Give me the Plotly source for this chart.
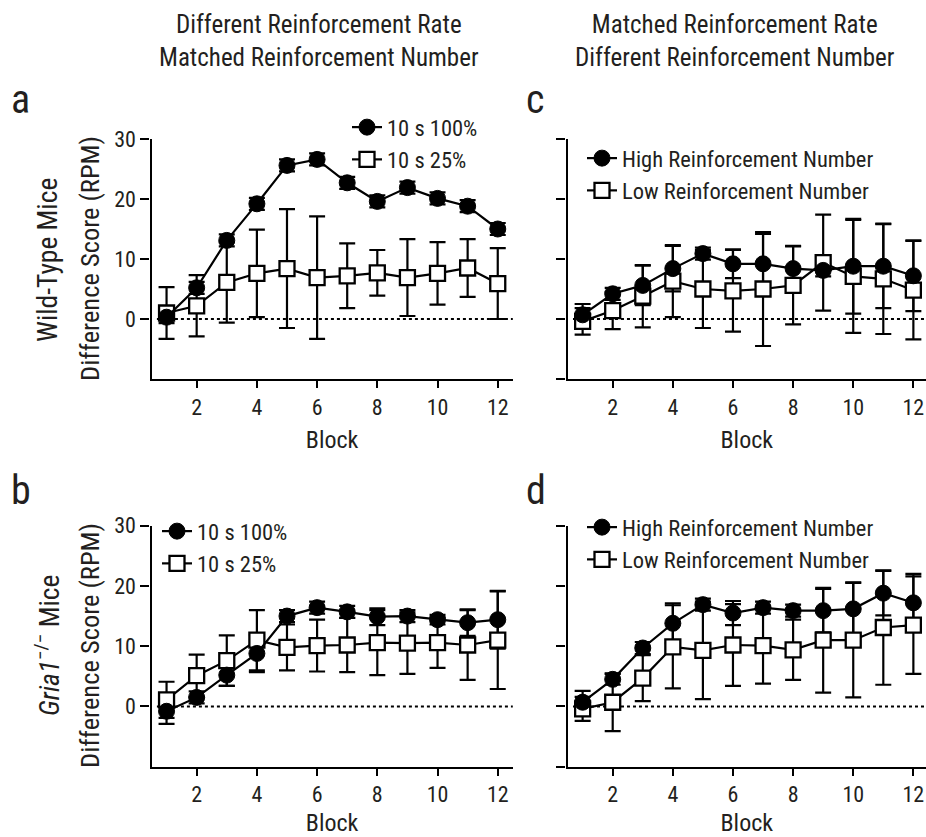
import plotly.graph_objects as go

FONT = "Roboto Condensed, DejaVu Sans Condensed, sans-serif"
W, H = 926, 837

blocks = [1, 2, 3, 4, 5, 6, 7, 8, 9, 10, 11, 12]
x_ticks = [2, 4, 6, 8, 10, 12]
y_ticks = [0, 10, 20, 30]
y_ticks_right = [-10, 0, 10, 20, 30]

# Panel a: Wild-Type, different rate / matched number
a_high = [0.3, 5.2, 13.1, 19.2, 25.6, 26.6, 22.7, 19.6, 21.9, 20.1, 18.8, 15.0]
a_high_err = [1.0, 1.0, 1.0, 1.0, 1.0, 1.0, 1.0, 1.0, 1.0, 1.0, 1.0, 1.0]
a_low = [1.0, 2.2, 6.1, 7.6, 8.4, 6.9, 7.2, 7.7, 6.9, 7.6, 8.5, 5.9]
a_low_err = [4.3, 5.1, 6.7, 7.3, 9.9, 10.2, 5.4, 3.8, 6.4, 5.2, 4.8, 5.9]

# Panel b: Gria1-/-, different rate / matched number
b_high = [-0.8, 1.5, 5.2, 8.8, 15.0, 16.4, 15.7, 14.9, 15.0, 14.4, 13.9, 14.4]
b_high_err = [2.1, 1.0, 1.8, 3.1, 1.0, 1.0, 1.0, 1.4, 1.0, 0.8, 2.2, 4.8]
b_low = [1.1, 5.1, 7.6, 11.0, 9.8, 10.1, 10.2, 10.6, 10.5, 10.6, 10.2, 11.0]
b_low_err = [3.0, 3.5, 4.2, 5.0, 3.8, 4.3, 4.5, 5.4, 5.1, 4.2, 5.8, 8.1]

# Panel c: Wild-Type, matched rate / different number
c_high = [0.7, 4.2, 5.6, 8.4, 10.9, 9.2, 9.2, 8.4, 8.1, 8.8, 8.8, 7.2]
c_high_err = [1.8, 1.0, 3.3, 3.8, 1.0, 2.4, 5.0, 3.8, 1.0, 7.9, 7.0, 5.9]
c_low = [-0.4, 1.4, 3.8, 6.3, 5.0, 4.7, 5.0, 5.6, 9.4, 7.1, 6.7, 4.8]
c_low_err = [2.2, 3.1, 5.2, 6.0, 6.5, 6.8, 9.5, 6.5, 8.0, 9.4, 9.2, 8.2]

# Panel d: Gria1-/-, matched rate / different number
d_high = [0.7, 4.5, 9.7, 13.8, 16.9, 15.5, 16.4, 15.9, 15.9, 16.2, 18.8, 17.2]
d_high_err = [1.9, 0.9, 1.0, 3.3, 1.0, 2.0, 1.0, 1.0, 3.6, 4.4, 3.7, 4.8]
d_low = [-0.4, 0.7, 4.7, 9.9, 9.3, 10.2, 10.1, 9.4, 11.0, 11.0, 13.1, 13.5]
d_low_err = [2.0, 4.8, 3.8, 6.9, 8.1, 6.8, 6.3, 5.0, 8.7, 9.5, 9.5, 8.1]

names_rate = ["10 s 100%", "10 s 25%"]
names_number = ["High Reinforcement Number", "Low Reinforcement Number"]

panels = [
    ("x", "y", "legend", a_high, a_high_err, a_low, a_low_err, names_rate),
    ("x2", "y2", "legend2", c_high, c_high_err, c_low, c_low_err, names_number),
    ("x3", "y3", "legend3", b_high, b_high_err, b_low, b_low_err, names_rate),
    ("x4", "y4", "legend4", d_high, d_high_err, d_low, d_low_err, names_number),
]

fig = go.Figure()
for xa, ya, lg, hi, hie, lo, loe, nm in panels:
    fig.add_trace(go.Scatter(
        x=blocks, y=hi, xaxis=xa, yaxis=ya, mode="markers",
        marker=dict(size=2, color="rgba(0,0,0,0)"),
        error_y=dict(type="data", array=hie, visible=True, color="black",
                     thickness=2.2, width=8),
        showlegend=False, hoverinfo="skip"))
    fig.add_trace(go.Scatter(
        x=blocks, y=lo, xaxis=xa, yaxis=ya, mode="lines+markers", name=nm[1],
        legend=lg, legendrank=2,
        line=dict(color="black", width=2.2),
        marker=dict(symbol="square", size=15, color="white",
                    line=dict(color="black", width=2.3)),
        error_y=dict(type="data", array=loe, visible=True, color="black",
                     thickness=2.2, width=8)))
    fig.add_trace(go.Scatter(
        x=blocks, y=hi, xaxis=xa, yaxis=ya, mode="lines+markers", name=nm[0],
        legend=lg, legendrank=1,
        line=dict(color="black", width=2.2),
        marker=dict(symbol="circle", size=16, color="black",
                    line=dict(color="black", width=1))))

xl = [151.5 / W, 512.8 / W]
xr = [567.6 / W, 1.0]
yt = [1 - 379 / H, 1 - 139 / H]
yb = [1 - 766.7 / H, 1 - 525.7 / H]

TXT = "#231f20"


def xax(domain, anchor, rng):
    return dict(domain=domain, anchor=anchor, range=rng, tickvals=x_ticks,
                ticks="outside", ticklen=7, tickwidth=2.2, tickcolor="black",
                showline=True, linewidth=2.4, linecolor="black",
                showgrid=False, zeroline=False, automargin=False,
                tickfont=dict(family=FONT, size=22, color=TXT),
                title=dict(text="Block", standoff=13,
                           font=dict(family=FONT, size=24, color=TXT)))


def yax(domain, anchor, labels):
    return dict(domain=domain, anchor=anchor, range=[-10, 30],
                tickvals=y_ticks if labels else y_ticks_right,
                showticklabels=labels,
                ticks="outside", ticklen=9, tickwidth=2.2, tickcolor="black",
                showline=True, linewidth=2.4, linecolor="black",
                showgrid=False, zeroline=False, automargin=False,
                tickfont=dict(family=FONT, size=22, color=TXT))


def leg(xpx, ypx):
    return dict(x=xpx / W, y=1 - ypx / H, xanchor="left", yanchor="top",
                bgcolor="rgba(0,0,0,0)", itemwidth=30, tracegroupgap=0,
                font=dict(family=FONT, size=22.5, color=TXT))


fig.update_layout(
    width=W, height=H, margin=dict(l=0, r=0, t=0, b=0),
    plot_bgcolor="white", paper_bgcolor="white",
    xaxis=xax(xl, "y", [0.5, 12.5]),
    yaxis=yax(yt, "x", True),
    xaxis2=xax(xr, "y2", [0.5, 12.42]),
    yaxis2=yax(yt, "x2", False),
    xaxis3=xax(xl, "y3", [0.5, 12.5]),
    yaxis3=yax(yb, "x3", True),
    xaxis4=xax(xr, "y4", [0.5, 12.42]),
    yaxis4=yax(yb, "x4", False),
    legend=leg(347, 106),
    legend2=leg(582, 137),
    legend3=leg(157, 510),
    legend4=leg(582, 506),
    showlegend=True,
)

for xa, ya in [("x", "y"), ("x2", "y2"), ("x3", "y3"), ("x4", "y4")]:
    fig.add_shape(type="line", xref=f"{xa} domain", yref=ya, x0=0.015, x1=1,
                  y0=0, y1=0, line=dict(color="black", width=2, dash="dot"),
                  layer="below")


def ann(text, xpx, ypx, size, angle=0, xanchor="center"):
    fig.add_annotation(text=text, x=xpx / W, y=1 - ypx / H, xref="paper",
                       yref="paper", showarrow=False, textangle=angle,
                       xanchor=xanchor, yanchor="middle",
                       font=dict(size=size, family=FONT, color=TXT))


ann("Different Reinforcement Rate<br>Matched Reinforcement Number", 319, 41, 25)
ann("Matched Reinforcement Rate<br>Different Reinforcement Number", 735, 41, 25)
ann("a", 9, 100, 40, xanchor="left")
ann("c", 524, 100, 40, xanchor="left")
ann("b", 9, 490, 40, xanchor="left")
ann("d", 524, 490, 40, xanchor="left")
ann("Difference Score (RPM)", 89, 259, 26.5, angle=-90)
ann("Wild-Type Mice", 47, 260, 27.5, angle=-90)
ann("Difference Score (RPM)", 89, 646, 26.5, angle=-90)
ann("<i>Gria1</i><sup>−/−</sup> Mice", 47, 646, 27.5, angle=-90)

fig.write_html(
    "out.html",
    config={"displayModeBar": False},
    post_script="document.body.style.margin='0px';document.body.style.overflow='hidden';",
)
